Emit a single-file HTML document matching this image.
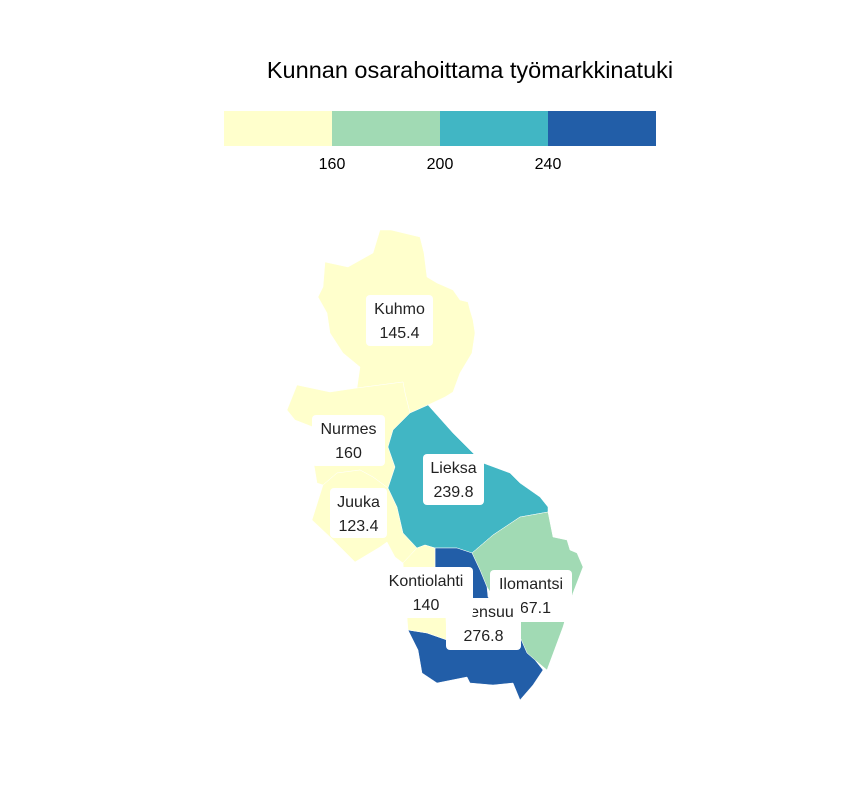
<!DOCTYPE html>
<html><head><meta charset="utf-8"><style>
body{margin:0;background:#fff;font-family:"Liberation Sans",sans-serif}
svg{display:block}
</style></head><body>
<svg id="c" width="864" height="792">
<text x="470" y="78" text-anchor="middle" font-size="23.5" fill="#000">Kunnan osarahoittama työmarkkinatuki</text>
<g id="legend"></g>
<g id="regions"></g>
<g id="labels"></g>
</svg>
<script>
const names=["Kuhmo","Nurmes","Juuka","Lieksa","Ilomantsi","Joensuu","Kontiolahti"];
const values=[145.4,160,123.4,239.8,167.1,276.8,140];
const breaks=[160,200,240];
const colors=["#ffffcc","#a1dab4","#41b6c4","#225ea8"];
const shapes={
Kuhmo:"380,230 391,230 420,237 424,253 427,277 437,283 453,290 460,300 468,302 470,310 473,320 475,333 472,353 460,373 453,392 445,397 428,405 410,413 405,393 403,382 357,388 360,367 343,353 330,333 327,313 318,297 323,287 325,262 348,267 373,253",
Nurmes:"357,388 330,392 297,385 287,410 295,420 313,427 312,453 317,483 323,485 337,473 360,470 373,477 388,488 395,467 388,447 393,430 410,413 405,393 403,382",
Juuka:"323,485 312,520 330,537 355,562 380,547 387,542 395,557 403,563 417,548 403,533 397,507 388,488 373,477 360,470 337,473",
Lieksa:"428,405 453,433 473,453 483,463 510,473 520,483 540,497 548,507 548,512 520,517 493,535 472,553 457,548 435,548 425,545 417,548 403,533 397,507 388,488 395,467 388,447 393,430 410,413",
Ilomantsi:"548,512 553,537 567,540 570,550 577,553 583,567 573,593 563,627 547,670 535,660 527,653 520,637 487,587 480,570 472,553 493,535 520,517",
Joensuu:"435,548 457,548 472,553 480,570 487,587 488,597 520,637 527,653 535,660 543,670 533,685 520,700 513,683 493,685 470,683 467,677 437,683 422,673 418,650 408,630 427,633 447,640 445,600 435,593",
Kontiolahti:"417,548 425,545 435,548 435,593 445,600 447,640 427,633 408,630 403,563"
};
const boxes={Kuhmo:[366,295,67,51],Nurmes:[312,415,73,51],Juuka:[330,488,57,50],Lieksa:[423,454,61,51],Ilomantsi:[490,570,82,52],Joensuu:[446,598,75,52],Kontiolahti:[379,567,94,51]};
const labelOrder=["Kuhmo","Nurmes","Juuka","Lieksa","Ilomantsi","Joensuu","Kontiolahti"];
const NS="http://www.w3.org/2000/svg";
function colorOf(v){let i=0;while(i<breaks.length&&v>breaks[i])i++;return colors[i];}
const lg=document.getElementById('legend');
const lx=224,lw=108;
colors.forEach((c,i)=>{const r=document.createElementNS(NS,'rect');
r.setAttribute('x',lx+i*lw);r.setAttribute('y',111);r.setAttribute('width',lw);r.setAttribute('height',35);r.setAttribute('fill',c);


lg.appendChild(r);});
breaks.forEach((b,i)=>{const t=document.createElementNS(NS,'text');
t.setAttribute('x',lx+(i+1)*lw);t.setAttribute('y',169);t.setAttribute('text-anchor','middle');t.setAttribute('font-size','16');t.textContent=b;


lg.appendChild(t);});
const rg=document.getElementById('regions');
names.forEach((n,i)=>{const p=document.createElementNS(NS,'polygon');
p.setAttribute('points',shapes[n]);p.setAttribute('fill',colorOf(values[i]));p.setAttribute('stroke','#fff');p.setAttribute('stroke-width','0.5');


rg.appendChild(p);});
const lb=document.getElementById('labels');
labelOrder.forEach(n=>{const i=names.indexOf(n);const b=boxes[n];
const g=document.createElementNS(NS,'g');


const r=document.createElementNS(NS,'rect');
r.setAttribute('x',b[0]);r.setAttribute('y',b[1]);r.setAttribute('width',b[2]);r.setAttribute('height',b[3]);r.setAttribute('rx',4);r.setAttribute('fill','#fff');
g.appendChild(r);
const cx=b[0]+b[2]/2;
[[n,b[1]+19],[String(values[i]),b[1]+43]].forEach(([s,y])=>{const t=document.createElementNS(NS,'text');
t.setAttribute('x',cx);t.setAttribute('y',y);t.setAttribute('text-anchor','middle');t.setAttribute('font-size','16');t.setAttribute('fill','#222');t.textContent=s;g.appendChild(t);});
lb.appendChild(g);});
</script>
</body></html>
